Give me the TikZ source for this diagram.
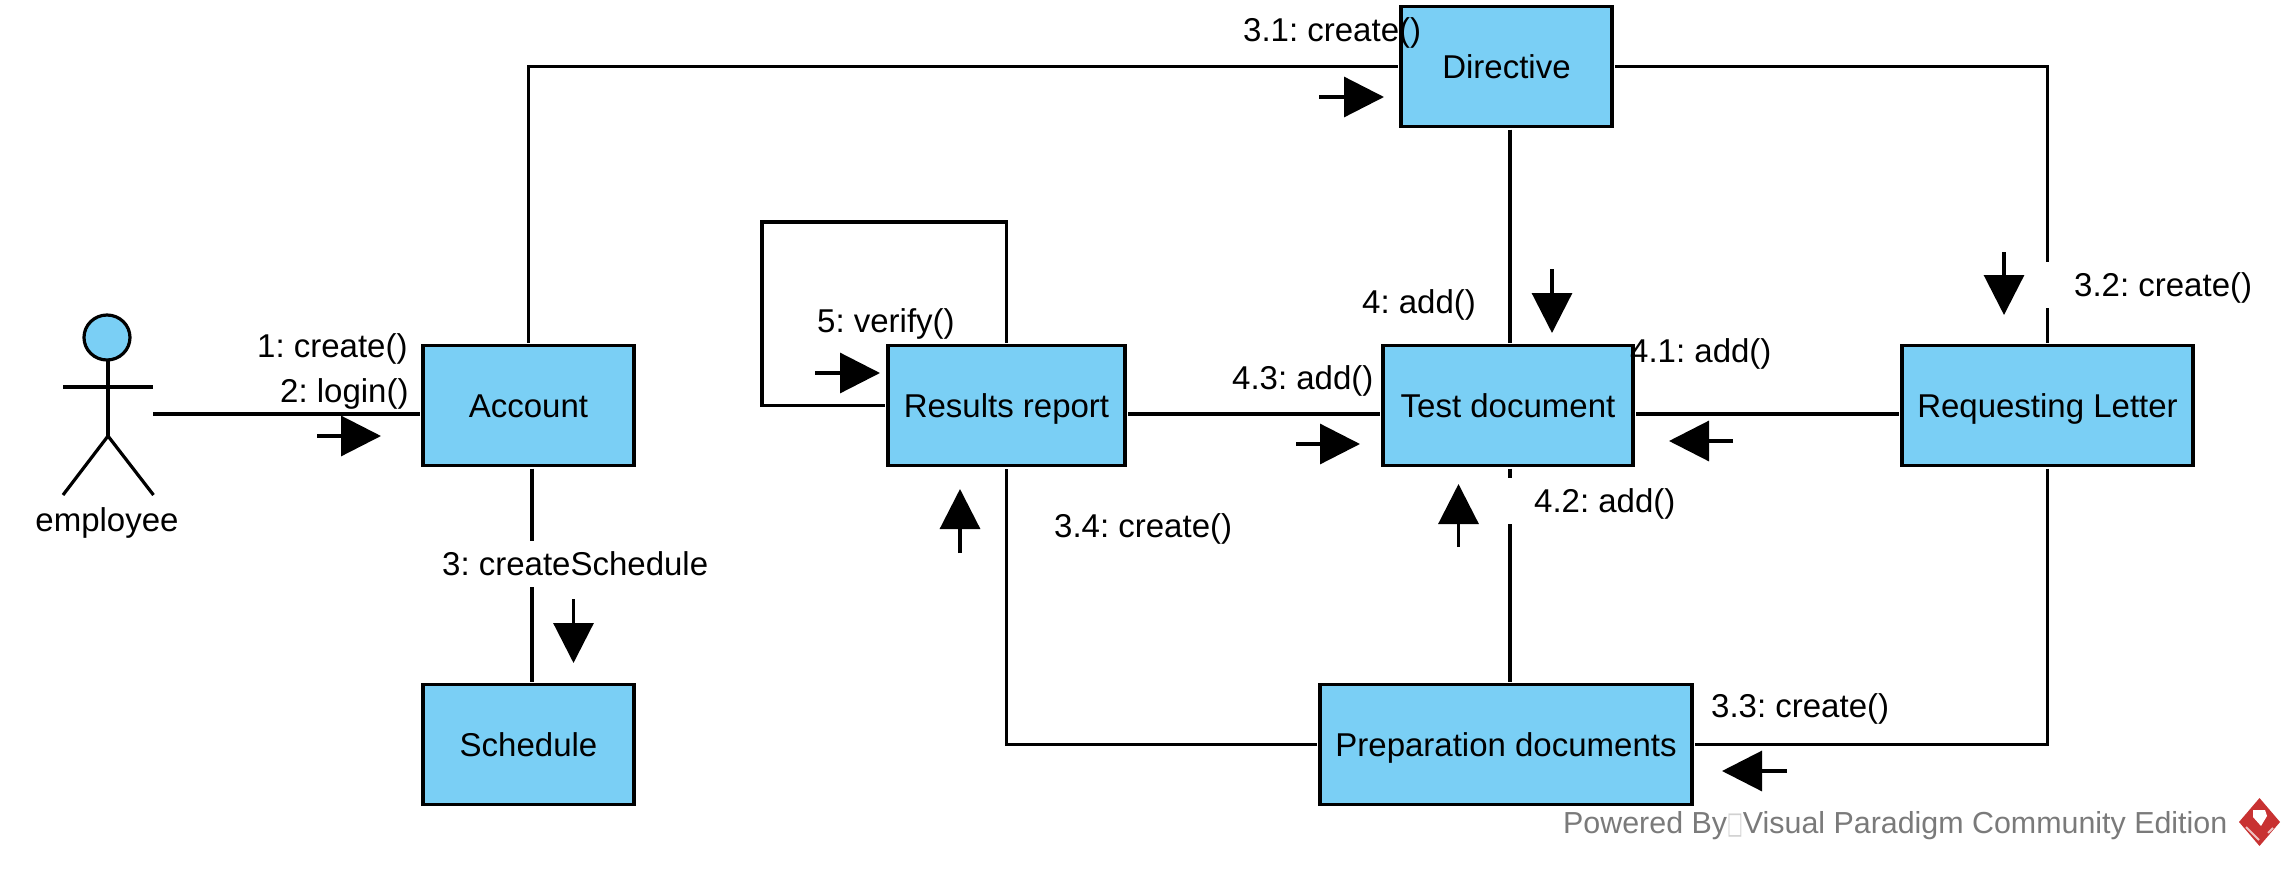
\documentclass[tikz,border=0pt]{standalone}
\usepackage{fontspec}
\setmainfont{Liberation Sans}
\newfontfamily\boxfont{DejaVu Sans}
\usetikzlibrary{arrows.meta}
\definecolor{classfill}{RGB}{122,207,245}
\definecolor{logored}{RGB}{200,50,50}
\frenchspacing
\tikzset{
  classbox/.style={draw, line width=3.2pt, fill=classfill, outer sep=3pt, minimum height=120pt, text height=24pt, text depth=0pt, inner sep=0pt},
  msg/.style={anchor=base west, inner sep=0pt},
  msggap/.style={anchor=base west, fill=white, inner ysep=0pt, inner xsep=30pt, minimum height=46pt, text height=30pt, text depth=8pt},
  link/.style={line width=3.2pt},
  dirarrow/.style={line width=3.2pt, -{Triangle[length=40pt,width=40pt]}},
}
\begin{document}
\begin{tikzpicture}[x=1pt, y=-1pt, font=\fontsize{33}{40}\selectfont]
  \useasboundingbox (0,0) rectangle (2295,873);
  % Classes
  \node[classbox, minimum width=211pt] (acct) at (528.5,405.5) {Account};
  \node[classbox, minimum width=211pt] (sched) at (528.5,744.5) {Schedule};
  \node[classbox, minimum width=211pt] (dir) at (1506.5,66.5) {Directive};
  \node[classbox, minimum width=237pt] (res) at (1006.5,405.5) {Results report};
  \node[classbox, minimum width=250pt] (test) at (1508,405.5) {Test document};
  \node[classbox, minimum width=291pt] (req) at (2047.5,405.5) {Requesting Letter};
  \node[classbox, minimum width=372pt] (prep) at (1506,744.5) {Preparation documents};
  % Actor
  \draw[link, fill=classfill] (107,337.5) ellipse (23 and 22.5);
  \draw[link] (108,360) -- (108,436);
  \draw[link] (63,387) -- (153,387);
  \draw[link] (63,495) -- (108,436) -- (153.5,495);
  \node[anchor=base, inner sep=0pt] (empl) at (107,531) {employee};
  \coordinate (hand) at (153,414);
  % Connectors
  \draw[link] (hand) -- ([yshift=-8.5pt]acct.west);
  \draw[link] (acct.north) |- (dir.west);
  \draw[link] (dir.east) -| (req.north);
  \draw[link] ([xshift=3.5pt]acct.south) -- ([xshift=3.5pt]sched.north);
  \draw[link] ([xshift=3.5pt]dir.south) -- ([xshift=2pt]test.north);
  \draw[link] ([xshift=2pt]test.south) -- ([xshift=4pt]prep.north);
  \draw[link] ([yshift=-8.5pt]res.east) -- ([yshift=-8.5pt]test.west);
  \draw[link] ([yshift=-8.5pt]test.east) -- ([yshift=-8.5pt]req.west);
  \draw[link] (req.south) |- (prep.east);
  \draw[link] (prep.west) -| (res.south);
  \draw[link] (res.north) |- (762,222) |- (res.west);
  % Message arrows
  \draw[dirarrow] (317,436) -- (381,436);
  \draw[dirarrow] (573.5,599) -- (573.5,663);
  \draw[dirarrow] (1319,97) -- (1384,97);
  \draw[dirarrow] (1552,269) -- (1552,333);
  \draw[dirarrow] (2004,252) -- (2004,315);
  \draw[dirarrow] (1296,444) -- (1360,444);
  \draw[dirarrow] (1733,441) -- (1669,441);
  \draw[dirarrow] (1458.5,547) -- (1458.5,484);
  \draw[dirarrow] (960,553) -- (960,489);
  \draw[dirarrow] (815,373) -- (880,373);
  \draw[dirarrow] (1787,771) -- (1722,771);
  % Message labels
  \node[msg] (m1) at (257,357) {1: create()};
  \node[msg] (m2) at (280,402) {2: login()};
  \node[msggap] (m3) at (412,575) {3: createSchedule};
  \node[msg] (m31) at (1243,41) {3.1: create()};
  \node[msggap] (m32) at (2044,296) {3.2: create()};
  \node[msg] (m33) at (1711,717) {3.3: create()};
  \node[msg] (m34) at (1054,537) {3.4: create()};
  \node[msg] (m4) at (1362,313) {4: add()};
  \node[msg] (m41) at (1630,362) {4.1: add()};
  \node[msggap] (m42) at (1504,512) {4.2: add()};
  \node[msg] (m43) at (1232,389) {4.3: add()};
  \node[msg] (m5) at (817,332) {5: verify()};
  % Footer
  \node[msg, text=black!52, font=\fontsize{30.4}{36}\selectfont] (powered) at (1563,833) {Powered By{\boxfont\textcolor{black!18}{\scalebox{0.55}[1]{□}}}Visual Paradigm Community Edition};
  \fill[logored] (2259.5,798) -- (2280,822) -- (2259.5,846) -- (2239,822) -- cycle;
  \fill[white] (2253,810) -- (2265,810) -- (2267,816) -- (2261,826) -- (2253,817) -- cycle;
  \draw[white!70!logored, line width=2pt] (2246,827) -- (2259,840);
  \draw[white!70!logored, line width=2pt] (2268,833) -- (2273,828);
\end{tikzpicture}
\end{document}
